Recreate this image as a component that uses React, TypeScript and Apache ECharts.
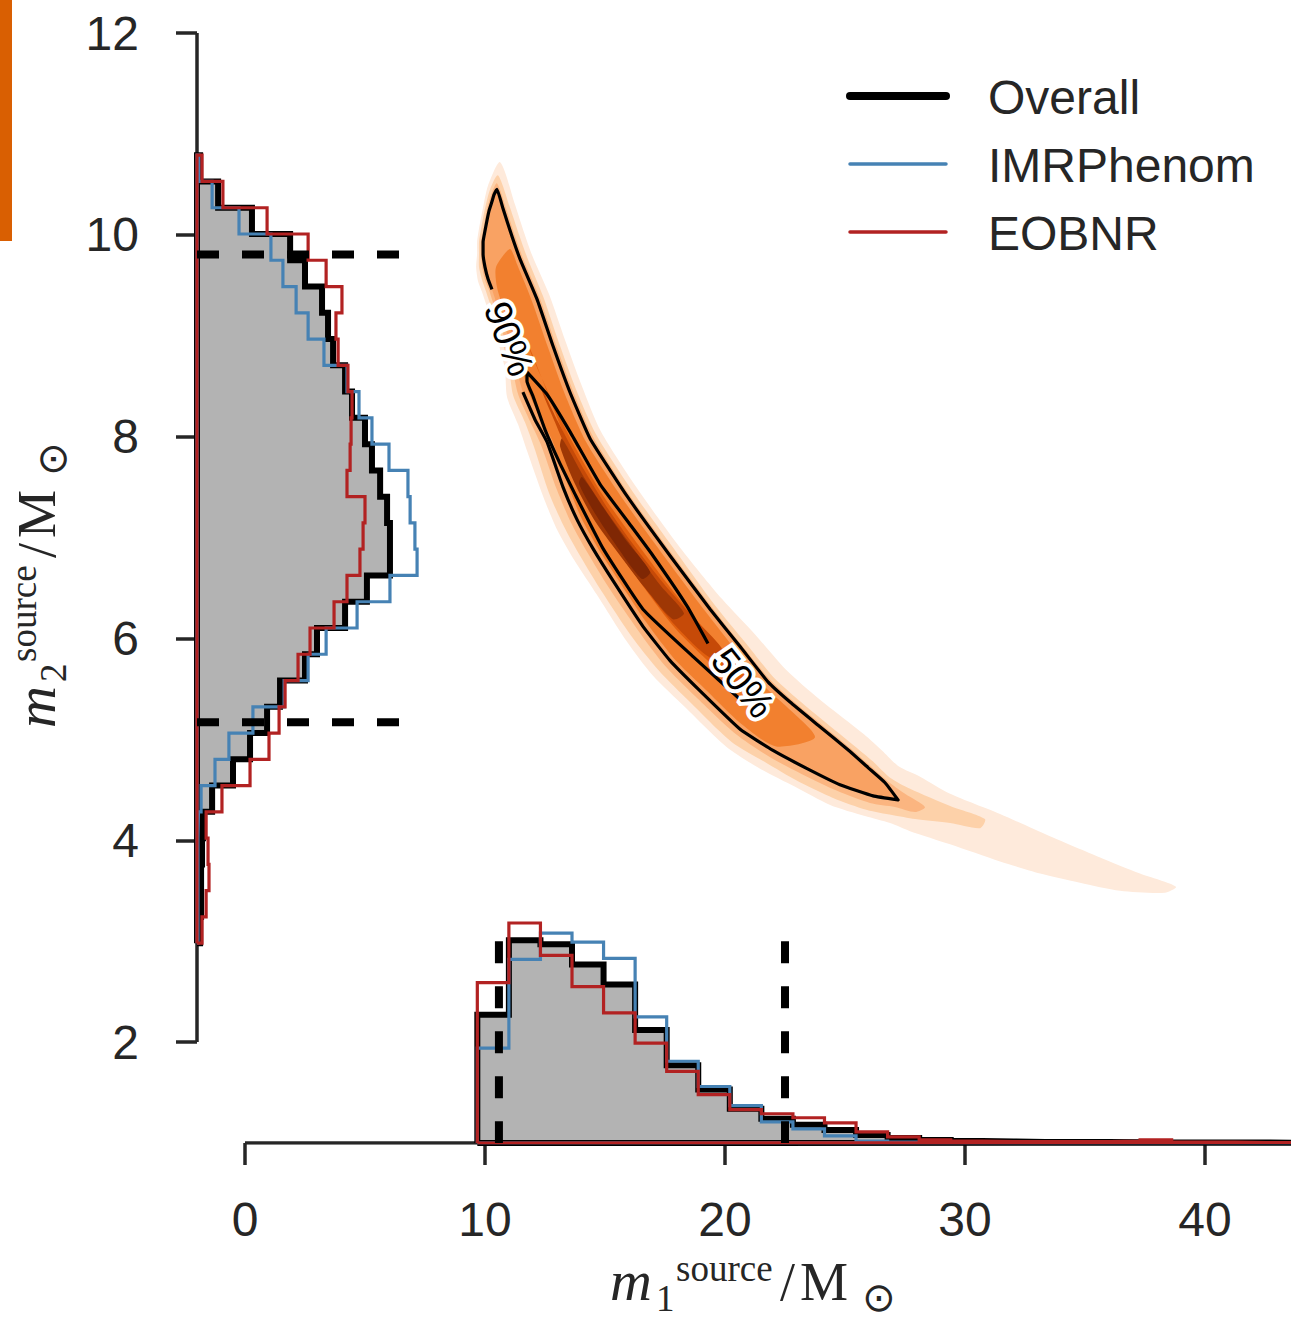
import React, { useEffect, useRef } from "react";
import * as echarts from "echarts";

// ---------------- axes ----------------
const X_TICKS = [0, 10, 20, 30, 40];
const Y_TICKS = [2, 4, 6, 8, 10, 12];
const X_MIN = -2;
const X_MAX = 43.583;
const Y_MIN = 1;
const Y_MAX = 12;

// ---------------- marginal of m2 (drawn sideways from the left spine), bins bottom -> top ----------------
const m2BinStart = 2.98;
const m2BinWidth = 0.2603;
const m2Overall = [0.13, 0.17, 0.17, 0.21, 0.25, 0.63, 1.5, 2.21, 2.92, 3.46, 4.5, 5.0, 6.17, 7.08, 8.04, 8.04, 7.92, 7.63, 7.29, 7.0, 6.46, 6.17, 5.67, 5.46, 5.21, 4.5, 3.88, 2.29, 0.88, 0.13];
const m2IMRPhenom = [0.04, 0.04, 0.04, 0.04, 0.06, 0.17, 0.75, 1.33, 2.33, 3.63, 4.63, 5.38, 6.67, 8.04, 9.17, 9.08, 8.88, 8.79, 8.0, 7.29, 6.75, 6.25, 5.29, 4.63, 4.13, 3.58, 3.08, 1.75, 0.63, 0.08];
const m2EOBNR = [0.21, 0.38, 0.5, 0.46, 0.38, 1.04, 2.21, 3.0, 3.42, 3.67, 4.21, 4.71, 5.71, 6.25, 6.79, 6.92, 7.0, 6.25, 6.38, 6.42, 6.46, 6.29, 5.88, 5.79, 6.04, 5.38, 4.63, 2.92, 1.08, 0.21];

// ---------------- marginal of m1 (drawn upward from the bottom spine) ----------------
const m1BinStart = 9.68;
const m1BinWidth = 1.315;
const m1Overall = [1.27, 2.01, 1.97, 1.77, 1.57, 1.12, 0.77, 0.53, 0.34, 0.24, 0.18, 0.13, 0.08, 0.05, 0.03, 0.02, 0.015, 0.01, 0.01, 0.01, 0.008, 0.006, 0.005, 0.005, 0.004, 0.003];
const m1IMRPhenom = [0.94, 1.82, 2.08, 1.99, 1.83, 1.25, 0.81, 0.56, 0.37, 0.21, 0.14, 0.07, 0.02, 0.01, 0.005, 0.003, 0.003, 0.002, 0.002, 0.002, 0.002, 0.002, 0.001, 0.001, 0.001, 0.001];
const m1EOBNR = [1.59, 2.18, 1.86, 1.55, 1.29, 0.99, 0.71, 0.48, 0.33, 0.29, 0.25, 0.2, 0.11, 0.06, 0.03, 0.02, 0.015, 0.015, 0.015, 0.015, 0.02, 0.03, 0.01, 0.01, 0.005, 0.005];

// 90% credible bounds (dashed markers)
const m2Bounds = [5.17, 9.805];
const m1Bounds = [10.58, 22.5];
const m2MarkerReach = 6.46;
const m1MarkerReach = 3.0;

// ---------------- 2-D posterior density: nested level regions [m1, m2] ----------------
const densityL0 = [[10.63, 10.72], [11.25, 10.3], [11.63, 10.02], [11.96, 9.8], [12.67, 9.41], [13.33, 8.96], [14.04, 8.5], [14.83, 8.05], [16.33, 7.49], [18.13, 6.9], [19.88, 6.39], [21.29, 6.03], [22.42, 5.72], [23.33, 5.52], [24.5, 5.29], [25.79, 5.05], [26.54, 4.89], [27.25, 4.73], [28.13, 4.63], [29.38, 4.46], [31.46, 4.26], [33.54, 4.04], [35.63, 3.83], [37.29, 3.67], [38.79, 3.54],
  [38.33, 3.48], [36.46, 3.5], [34.79, 3.58], [33.13, 3.67], [31.46, 3.79], [29.38, 3.96], [27.71, 4.09], [26.88, 4.17], [25.83, 4.24], [24.38, 4.35], [22.92, 4.53], [21.46, 4.71], [20.04, 4.93], [18.33, 5.32], [17.0, 5.63], [15.88, 5.98], [14.67, 6.43], [13.71, 6.78], [13.0, 7.08], [12.42, 7.41], [11.75, 7.86], [11.38, 8.12], [10.92, 8.39], [10.83, 8.67], [10.54, 8.94], [10.21, 9.19], [9.88, 9.43], [9.71, 9.54], [9.63, 9.68], [9.67, 9.81], [9.67, 9.93], [9.75, 10.06], [9.92, 10.27], [10.13, 10.49]];
const densityL1 = [[10.54, 10.59], [11.04, 10.27], [11.42, 10.0], [11.75, 9.78], [12.42, 9.39], [13.08, 8.93], [13.79, 8.47], [14.63, 8.02], [16.17, 7.45], [17.96, 6.86], [19.58, 6.33], [20.88, 5.95], [22.0, 5.62], [22.92, 5.42], [24.08, 5.19], [25.42, 4.93], [26.17, 4.78], [26.88, 4.62], [27.71, 4.51], [29.38, 4.34], [30.83, 4.21],
  [30.63, 4.12], [29.38, 4.17], [27.92, 4.21], [26.96, 4.25], [25.92, 4.3], [24.5, 4.42], [23.08, 4.58], [21.63, 4.78], [20.25, 4.98], [18.54, 5.37], [17.25, 5.68], [16.08, 6.03], [14.88, 6.46], [13.96, 6.82], [13.29, 7.11], [12.67, 7.44], [12.04, 7.9], [11.67, 8.14], [11.17, 8.41], [11.0, 8.68], [10.71, 8.95], [10.38, 9.19], [10.04, 9.44], [9.88, 9.55], [9.75, 9.68], [9.75, 9.81], [9.75, 9.93], [9.83, 10.05], [10.0, 10.26], [10.21, 10.45]];
const densityL2 = [[10.5, 10.51], [10.88, 10.26], [11.25, 9.99], [11.58, 9.77], [12.29, 9.37], [12.96, 8.91], [13.67, 8.45], [14.5, 8.0], [16.0, 7.43], [17.79, 6.84], [19.46, 6.31], [20.71, 5.93], [21.88, 5.59], [22.79, 5.39], [23.96, 5.16], [25.29, 4.9], [26.04, 4.74], [26.75, 4.59], [27.5, 4.46], [28.33, 4.33],
  [27.92, 4.28], [27.08, 4.33], [26.04, 4.37], [24.67, 4.49], [23.25, 4.65], [21.83, 4.83], [20.46, 5.05], [18.75, 5.43], [17.5, 5.73], [16.38, 6.08], [15.17, 6.5], [14.25, 6.86], [13.58, 7.15], [13.0, 7.47], [12.33, 7.92], [11.88, 8.15], [11.38, 8.42], [11.13, 8.69], [10.83, 8.96], [10.5, 9.2], [10.17, 9.45], [10.0, 9.55], [9.88, 9.68], [9.83, 9.81], [9.83, 9.93], [9.92, 10.04], [10.08, 10.25], [10.29, 10.42]];
const densityL3 = [[10.5, 10.45], [10.75, 10.26], [11.13, 9.98], [11.46, 9.76], [12.17, 9.36], [12.83, 8.9], [13.54, 8.44], [14.38, 7.98], [15.92, 7.41], [17.71, 6.82], [19.38, 6.29], [20.63, 5.92], [21.79, 5.57], [22.71, 5.37], [23.88, 5.14], [25.21, 4.88], [25.96, 4.72], [26.67, 4.57], [27.21, 4.4],
  [26.17, 4.44], [24.79, 4.55], [23.42, 4.71], [22.0, 4.89], [20.63, 5.1], [18.96, 5.48], [17.71, 5.78], [16.58, 6.12], [15.42, 6.54], [14.5, 6.89], [13.83, 7.18], [13.25, 7.5], [12.58, 7.95], [12.08, 8.17], [11.58, 8.44], [11.29, 8.7], [11.0, 8.97], [10.63, 9.21], [10.29, 9.46], [10.13, 9.56], [10.0, 9.68], [9.92, 9.81], [9.92, 9.93], [10.0, 10.04], [10.17, 10.24], [10.38, 10.4]];
const densityL4 = [[11.04, 9.86], [11.33, 9.71], [11.96, 9.34], [12.63, 8.88], [13.33, 8.42], [14.21, 7.95], [15.75, 7.38], [17.54, 6.79], [19.21, 6.26], [20.46, 5.88], [21.63, 5.53], [22.54, 5.33], [23.75, 5.02],
  [22.13, 4.93], [20.75, 5.14], [19.08, 5.52], [17.88, 5.8], [16.75, 6.15], [15.58, 6.57], [14.67, 6.91], [14.0, 7.2], [13.46, 7.52], [12.79, 7.97], [12.29, 8.19], [11.79, 8.46], [11.5, 8.72], [11.21, 8.98], [10.83, 9.23], [10.5, 9.48], [10.46, 9.68]];
const densityL5 = [[11.75, 8.92], [12.29, 8.62], [12.96, 8.27], [13.79, 7.88], [14.83, 7.45], [16.04, 7.04], [17.38, 6.61], [18.79, 6.19], [20.21, 5.82], [21.54, 5.52],
  [20.96, 5.46], [19.46, 5.74], [17.96, 6.09], [16.67, 6.49], [15.5, 6.91], [14.54, 7.35], [13.75, 7.76], [13.0, 8.19], [12.38, 8.57], [11.88, 8.87]];
const densityL6 = [[12.29, 8.52], [13.04, 8.15], [13.96, 7.74], [15.0, 7.33], [16.21, 6.92], [17.46, 6.54], [18.83, 6.17], [19.88, 5.89],
  [19.38, 5.81], [17.96, 6.12], [16.63, 6.51], [15.42, 6.91], [14.46, 7.32], [13.63, 7.74], [12.92, 8.14], [12.42, 8.42]];
const densityL7 = [[13.21, 7.98], [14.17, 7.58], [15.17, 7.22], [16.25, 6.87], [17.33, 6.52], [18.29, 6.25],
  [17.83, 6.19], [16.67, 6.5], [15.54, 6.85], [14.54, 7.18], [13.75, 7.53], [13.13, 7.9]];
const densityL8 = [[14.04, 7.6], [14.92, 7.3], [15.88, 6.97], [16.88, 6.66], [16.54, 6.59], [15.5, 6.91], [14.63, 7.22], [13.92, 7.53]];
const densityLevels = [densityL0, densityL1, densityL2, densityL3, densityL4, densityL5, densityL6, densityL7, densityL8];
const densityColors = ["#feeadb", "#fdd1a9", "#fbb580", "#f9a263", "#f2802f", "#e2600f", "#c64a08", "#9e3705", "#7f2704"];

// ---------------- credible contours ----------------
const contour90 = [[10.29, 9.46], [10.13, 9.56], [10.0, 9.68], [9.92, 9.81], [9.92, 9.93], [10.0, 10.04], [10.08, 10.14], [10.17, 10.24], [10.29, 10.33], [10.38, 10.4], [10.5, 10.45], [10.75, 10.26], [11.13, 9.98], [11.46, 9.76], [12.17, 9.36], [12.83, 8.9], [13.54, 8.44], [14.38, 7.98], [15.92, 7.41], [17.71, 6.82], [19.38, 6.29], [20.63, 5.92], [21.79, 5.57], [22.71, 5.37], [23.88, 5.14], [25.21, 4.88], [25.96, 4.72], [26.67, 4.57], [27.21, 4.4], [26.17, 4.44], [24.79, 4.55], [23.42, 4.71], [22.0, 4.89], [20.63, 5.1], [18.96, 5.48], [17.71, 5.78], [16.58, 6.12], [15.42, 6.54], [14.5, 6.89], [13.83, 7.18], [13.25, 7.5], [12.58, 7.95], [12.08, 8.17], [11.58, 8.44]];
const contour50 = [[19.29, 5.95], [18.42, 6.32], [17.0, 6.82], [16.04, 7.13], [14.79, 7.53], [13.54, 8.05], [12.58, 8.42], [11.75, 8.64], [11.75, 8.55], [12.0, 8.4], [12.5, 8.07], [13.13, 7.73], [13.75, 7.43], [14.92, 6.89], [16.58, 6.29], [18.67, 5.82], [20.75, 5.37]];
const contourLabels = [
  { text: "90%", at: [11.0, 8.97], angle: -69 },
  { text: "50%", at: [20.75, 5.56], angle: -52 },
];

const legendItems = [
  { name: "Overall", color: "#000000", width: 8 },
  { name: "IMRPhenom", color: "#4682b4", width: 3.5 },
  { name: "EOBNR", color: "#b22222", width: 3.5 },
];

const SANS = "'Liberation Sans', Arial, sans-serif";
const SERIF = "'Liberation Serif', 'Times New Roman', serif";
const INK = "#262626";

function sidewaysOutline(vals: number[]) {
  const pts: number[][] = [[X_MIN, m2BinStart]];
  vals.forEach((v, i) => {
    const lo = m2BinStart + i * m2BinWidth;
    pts.push([X_MIN + v, lo], [X_MIN + v, lo + m2BinWidth]);
  });
  pts.push([X_MIN, m2BinStart + vals.length * m2BinWidth]);
  pts.push([X_MIN, m2BinStart]);
  return pts;
}

function uprightOutline(vals: number[]) {
  const pts: number[][] = [[m1BinStart, Y_MIN]];
  vals.forEach((v, i) => {
    const lo = m1BinStart + i * m1BinWidth;
    pts.push([lo, Y_MIN + v], [lo + m1BinWidth, Y_MIN + v]);
  });
  pts.push([m1BinStart + vals.length * m1BinWidth, Y_MIN]);
  pts.push([m1BinStart, Y_MIN]);
  return pts;
}

function polygonSeries(pts: number[][], fill: string, z: number, smooth: number) {
  return {
    type: "custom",
    coordinateSystem: "cartesian2d",
    silent: true,
    clip: true,
    z,
    data: [pts[0]],
    renderItem: (_p: any, api: any) => ({
      type: "polygon",
      shape: { points: pts.map((p) => api.coord(p)), smooth },
      style: { fill, stroke: null },
    }),
  };
}

function lineSeries(pts: number[][], color: string, width: number, z: number, extra: any = {}, smooth: number | boolean = false) {
  return {
    type: "line",
    data: pts,
    symbol: "none",
    showSymbol: false,
    silent: true,
    clip: true,
    smooth,
    z,
    lineStyle: { color, width, join: "miter", cap: "butt", ...extra },
  };
}

function mathLabel(sub: string) {
  const piece = (text: string, x: number, baseline: number, size: number, family: string, italic = false) => ({
    type: "text",
    x,
    y: baseline - 0.34 * size,
    style: {
      text,
      fontSize: size,
      fontFamily: family,
      fontStyle: italic ? "italic" : "normal",
      fill: INK,
      align: "left",
      verticalAlign: "middle",
    },
  });
  return [
    piece("m", 0, 0, 58, SERIF, true),
    piece(sub, 46, 11, 37, SERIF),
    piece("source", 66, -19, 37, SERIF),
    piece("/", 170, 0, 54, SERIF),
    piece("M", 190, 0, 54, SERIF),
    { type: "text", x: 252, y: -3, style: { text: "\u2299", fontSize: 40, fontFamily: "'DejaVu Sans', sans-serif", fill: INK, align: "left", verticalAlign: "middle" } },
  ];
}

export default function App() {
  const ref = useRef<HTMLDivElement>(null);
  useEffect(() => {
    if (!ref.current) return;
    const chart = echarts.init(ref.current, null, { renderer: "svg" });

    const series: any[] = [];
    densityLevels.forEach((lvl, i) => series.push(polygonSeries(lvl, densityColors[i], 1, 0.25)));
    series.push(lineSeries(contour90, "#000", 3.2, 2, { join: "round" }, 0.12));
    series.push(lineSeries(contour50, "#000", 3.2, 2, { join: "round" }, 0.12));
    series.push({
      type: "custom",
      coordinateSystem: "cartesian2d",
      silent: true,
      z: 3,
      data: contourLabels.map((l) => l.at),
      renderItem: (params: any, api: any) => {
        const l = contourLabels[params.dataIndex];
        const [x, y] = api.coord(l.at);
        const base = { text: l.text, fontSize: 38, fontFamily: SANS, align: "center", verticalAlign: "middle" };
        return {
          type: "group",
          x,
          y,
          rotation: (l.angle * Math.PI) / 180,
          children: [
            { type: "text", style: { ...base, fill: "#fff", stroke: "#fff", lineWidth: 8 } },
            { type: "text", style: { ...base, fill: "#000" } },
          ],
        };
      },
    });
    series.push(lineSeries([[X_MIN, Y_TICKS[0]], [X_MIN, Y_TICKS[Y_TICKS.length - 1]]], INK, 3.5, 0));
    series.push(lineSeries([[X_TICKS[0], Y_MIN], [X_MAX, Y_MIN]], INK, 3.5, 0));
    series.push(polygonSeries(sidewaysOutline(m2Overall), "#b3b3b3", 4, 0));
    series.push(polygonSeries(uprightOutline(m1Overall), "#b3b3b3", 4, 0));
    series.push(lineSeries(sidewaysOutline(m2Overall), "#000", 6, 5));
    series.push(lineSeries(uprightOutline(m1Overall), "#000", 6, 5));
    series.push(lineSeries(sidewaysOutline(m2IMRPhenom), legendItems[1].color, 3.2, 6));
    series.push(lineSeries(uprightOutline(m1IMRPhenom), legendItems[1].color, 3.2, 6));
    series.push(lineSeries(sidewaysOutline(m2EOBNR), legendItems[2].color, 3.2, 7));
    series.push(lineSeries(uprightOutline(m1EOBNR), legendItems[2].color, 3.2, 7));
    m2Bounds.forEach((v) => series.push(lineSeries([[X_MIN, v], [m2MarkerReach, v]], "#000", 8, 8, { type: [22, 23] })));
    m1Bounds.forEach((v) => series.push(lineSeries([[v, m1MarkerReach], [v, Y_MIN]], "#000", 8, 8, { type: [22, 23] })));

    const graphic: any[] = [
      { type: "rect", shape: { x: 0, y: 0, width: 12, height: 241 }, style: { fill: "#d95f02" } },
      { type: "group", x: 610, y: 1300, children: mathLabel("1") },
      { type: "group", x: 55, y: 728, rotation: Math.PI / 2, children: mathLabel("2") },
    ];
    legendItems.forEach((it, i) => {
      const y = 96 + i * 68;
      graphic.push({ type: "line", shape: { x1: 850, y1: y, x2: 946, y2: y }, style: { stroke: it.color, lineWidth: it.width, lineCap: "round" } });
      graphic.push({ type: "text", x: 988, y: y + 1, style: { text: it.name, fontSize: 48, fontFamily: SANS, fill: INK, align: "left", verticalAlign: "middle" } });
    });

    chart.setOption({
      animation: false,
      backgroundColor: "#ffffff",
      grid: { left: 197, top: 33, right: 0, bottom: 177, containLabel: false },
      xAxis: {
        type: "value",
        min: X_MIN,
        max: X_MAX,
        axisLine: { show: false, onZero: false },
        splitLine: { show: false },
        axisTick: { show: true, customValues: X_TICKS, length: 22, lineStyle: { color: INK, width: 3.5 } },
        axisLabel: { customValues: X_TICKS, fontSize: 48, fontFamily: SANS, color: INK, margin: 52 },
      },
      yAxis: {
        type: "value",
        min: Y_MIN,
        max: Y_MAX,
        axisLine: { show: false, onZero: false },
        splitLine: { show: false },
        axisTick: { show: true, customValues: Y_TICKS, length: 21, lineStyle: { color: INK, width: 3.5 } },
        axisLabel: { customValues: Y_TICKS, fontSize: 48, fontFamily: SANS, color: INK, margin: 58 },
      },
      series,
      graphic,
    });
    return () => chart.dispose();
  }, []);
  return <div ref={ref} style={{ position: "absolute", left: 0, top: 0, width: 1291, height: 1320, background: "#fff" }} />;
}
